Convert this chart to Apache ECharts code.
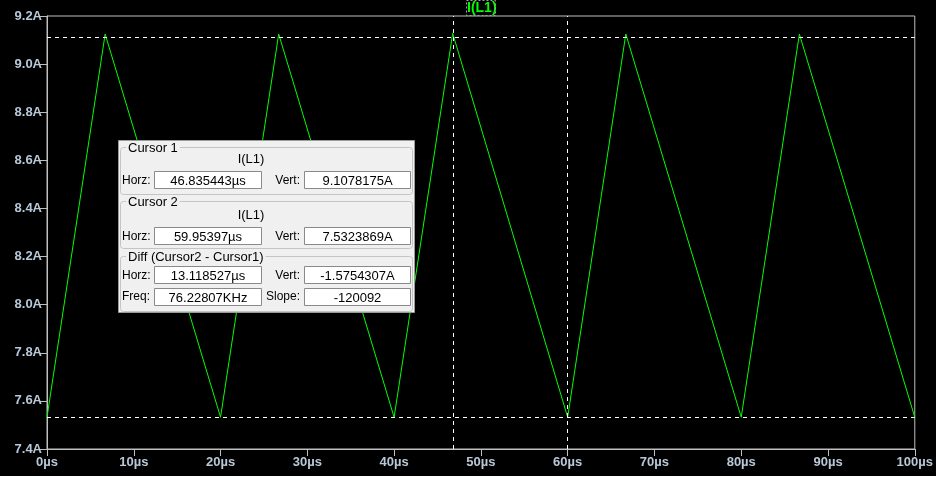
<!DOCTYPE html>
<html>
<head>
<meta charset="utf-8">
<script src="https://cdn.jsdelivr.net/npm/echarts@6/dist/echarts.min.js"></script>
<style>
html,body{margin:0;padding:0;background:#000;}
#c{width:936px;height:477px;}
</style>
</head>
<body>
<div id="c"></div>
<script>
// Waveform vertices (time in µs, current in A)
var times = [0, 6.7, 20, 26.7, 40, 46.75, 60, 66.7, 80, 86.7, 100];
var currents = [7.532, 9.125, 7.532, 9.125, 7.532, 9.128, 7.532, 9.125, 7.532, 9.125, 7.532];
var seriesName = 'I(L1)';
// Cursor positions
var cursorTimes = [46.835443, 59.95397];
var cursorValues = [9.1078175, 7.5323869];
// Cursor readout texts
var cursor1Texts = ['46.835443µs', '9.1078175A'];
var cursor2Texts = ['59.95397µs', '7.5323869A'];
var diffTexts = ['13.118527µs', '-1.5754307A', '76.22807KHz', '-120092'];

var data = times.map(function (t, i) { return [t, currents[i]]; });

var FONT = 'Liberation Sans, Arial, sans-serif';
var labelColor = '#b8c8d8';
var Z = 100;

function field(x, y, w, h, txt) {
  return [
    { type: 'rect', z: Z, shape: { x: x, y: y, width: w, height: h },
      style: { fill: '#ffffff', stroke: '#8a8a8a', lineWidth: 1 } },
    { type: 'text', z: Z + 1, x: x + w / 2, y: y + h / 2 + 1,
      style: { text: txt, fill: '#000', font: '13px ' + FONT, textAlign: 'center', textVerticalAlign: 'middle' } }
  ];
}
function label(x, y, txt, align) {
  return { type: 'text', z: Z + 1, x: x, y: y,
    style: { text: txt, fill: '#000', font: '12px ' + FONT, textAlign: align || 'left', textVerticalAlign: 'middle' } };
}
function groupBox(y, h, title) {
  return [
    { type: 'rect', z: Z, shape: { x: 120.5, y: y + 0.5, width: 292, height: h, r: 3 },
      style: { fill: 'none', stroke: '#c4c4c4', lineWidth: 1 } },
    { type: 'text', z: Z + 1, x: 126, y: y + 1,
      style: { text: title, fill: '#000', font: '13px ' + FONT, textAlign: 'left', textVerticalAlign: 'middle',
        backgroundColor: '#f0f0f0', padding: [0, 2, 0, 2] } }
  ];
}

var els = [];
els.push({ type: 'rect', z: Z - 1, shape: { x: 118.5, y: 140.5, width: 296, height: 172 },
  style: { fill: '#f0f0f0', stroke: '#9a9a9a', lineWidth: 1 } });
els = els.concat(groupBox(147, 47, 'Cursor 1'));
els.push({ type: 'text', z: Z + 1, x: 251, y: 159, style: { text: seriesName, fill: '#000', font: '13px ' + FONT, textAlign: 'center', textVerticalAlign: 'middle' } });
els.push(label(122, 181, 'Horz:'));
els = els.concat(field(154.5, 171.5, 107, 17, cursor1Texts[0]));
els.push(label(300, 181, 'Vert:', 'right'));
els = els.concat(field(304.5, 171.5, 106, 17, cursor1Texts[1]));

els = els.concat(groupBox(201, 47, 'Cursor 2'));
els.push({ type: 'text', z: Z + 1, x: 251, y: 215, style: { text: seriesName, fill: '#000', font: '13px ' + FONT, textAlign: 'center', textVerticalAlign: 'middle' } });
els.push(label(122, 237, 'Horz:'));
els = els.concat(field(154.5, 227.5, 107, 17, cursor2Texts[0]));
els.push(label(300, 237, 'Vert:', 'right'));
els = els.concat(field(304.5, 227.5, 106, 17, cursor2Texts[1]));

els = els.concat(groupBox(256, 55, 'Diff (Cursor2 - Cursor1)'));
els.push(label(122, 276, 'Horz:'));
els = els.concat(field(154.5, 266.5, 107, 17, diffTexts[0]));
els.push(label(300, 276, 'Vert:', 'right'));
els = els.concat(field(304.5, 266.5, 106, 17, diffTexts[1]));
els.push(label(122, 297, 'Freq:'));
els = els.concat(field(154.5, 288.5, 107, 17, diffTexts[2]));
els.push(label(300, 297, 'Slope:', 'right'));
els = els.concat(field(304.5, 288.5, 106, 17, diffTexts[3]));

// legend dashed frame
els.push({ type: 'rect', z: Z, shape: { x: 466.5, y: 0.5, width: 29, height: 15 },
  style: { fill: 'none', stroke: '#a0a0a0', lineWidth: 1, lineDash: [2, 2] } });
// bottom white strip
els.push({ type: 'rect', z: Z, shape: { x: 0, y: 476, width: 936, height: 1 }, style: { fill: '#ffffff' } });

var chart = echarts.init(document.getElementById('c'), null, { renderer: 'canvas' });
chart.setOption({
  backgroundColor: '#000000',
  animation: false,
  legend: {
    data: [seriesName],
    left: 462, top: 0,
    icon: 'none', itemWidth: 0, itemHeight: 0, itemGap: 0,
    padding: [1, 0, 0, 0],
    textStyle: { color: '#00ff00', fontFamily: FONT, fontSize: 14, fontWeight: 'bold' }
  },
  grid: { left: 47, right: 20, top: 16, bottom: 28, show: true, borderColor: '#c0c0c0', borderWidth: 1, backgroundColor: 'transparent' },
  xAxis: {
    type: 'value', min: 0, max: 100, interval: 10,
    axisLine: { show: true, lineStyle: { color: '#c0c0c0', width: 1 } },
    axisTick: { show: true, length: 7, lineStyle: { color: '#c0c0c0' } },
    splitLine: { show: false },
    axisLabel: { color: labelColor, fontFamily: FONT, fontSize: 13, fontWeight: 'bold', margin: 7,
      formatter: function (v) { return v + 'µs'; } }
  },
  yAxis: {
    type: 'value', min: 7.4, max: 9.2, interval: 0.2,
    axisLine: { show: true, lineStyle: { color: '#c0c0c0', width: 1 } },
    axisTick: { show: true, length: 7, lineStyle: { color: '#c0c0c0' } },
    splitLine: { show: false },
    axisLabel: { color: labelColor, fontFamily: FONT, fontSize: 13, fontWeight: 'bold', margin: 5,
      formatter: function (v) { return v.toFixed(1) + 'A'; } }
  },
  series: [{
    name: seriesName,
    type: 'line',
    data: data,
    showSymbol: false,
    z: 2,
    lineStyle: { color: '#00ff00', width: 1 },
    itemStyle: { color: '#00ff00' },
    markLine: {
      silent: true, symbol: 'none', animation: false,
      label: { show: false },
      lineStyle: { color: '#ffffff', type: [4, 4], width: 1 },
      data: [
        { xAxis: cursorTimes[0] }, { xAxis: cursorTimes[1] },
        { yAxis: cursorValues[0] }, { yAxis: cursorValues[1] }
      ]
    }
  }],
  graphic: { elements: els }
});
</script>
</body>
</html>
